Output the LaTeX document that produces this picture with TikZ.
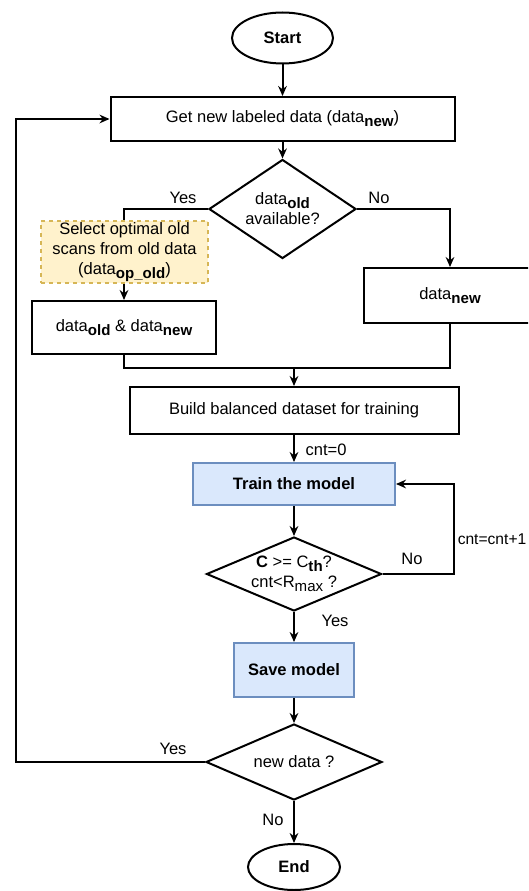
\documentclass[tikz,border=0pt]{standalone}
\usepackage{fontspec}
\setmainfont{Liberation Sans}
\usetikzlibrary{arrows.meta, shapes.geometric}
\definecolor{BoxBlue}{HTML}{DAE8FC}
\definecolor{EdgeBlue}{HTML}{6C8EBF}
\definecolor{NoteYellow}{HTML}{FFF2CC}
\definecolor{EdgeYellow}{HTML}{D6B656}
\newcommand{\dsub}[1]{\raisebox{-0.45ex}{\fontsize{11.3}{13}\selectfont #1}}

\begin{document}
\begin{tikzpicture}[x=0.75pt, y=-0.75pt, font=\fontsize{12.4}{15}\selectfont, bx/.style={draw, line width=1.5pt, align=center, inner sep=0pt}, trm/.style={bx, ellipse, font=\fontsize{12.4}{15}\selectfont\bfseries}, dec/.style={bx, diamond}, blu/.style={bx, draw=EdgeBlue, fill=BoxBlue, font=\fontsize{12.4}{15}\selectfont\bfseries}, note/.style={draw=EdgeYellow, fill=NoteYellow, dashed, line width=1.5pt, align=center, inner sep=0pt}, ln/.style={line width=1.5pt}, ar/.style={ln, -{Stealth[length=7.5pt, width=6.5pt]}}, lbl/.style={inner sep=0pt}]
\clip (0,0) rectangle (528,891);
\node[trm, minimum width=75.75pt, minimum height=38.25pt] (start) at (282.5,38) {Start};
\node[bx, minimum width=258pt, minimum height=33pt] (getnew) at (282.5,119) {Get new labeled data (data\dsub{\bfseries new})};
\node[dec, aspect=1.5, minimum width=110.25pt, minimum height=74.25pt] (dia1) at (282.5,209) {data\dsub{\bfseries old}\\available?};
\node[bx, minimum width=138.4pt, minimum height=39.75pt] (oldnew) at (124,327.5) {data\dsub{\bfseries old} \& data\dsub{\bfseries new}};
\node[bx, minimum width=129pt, minimum height=41.25pt] (newbox) at (450,295.5) {data\dsub{\bfseries new}};
\coordinate (mrg) at (294,368);
\node[bx, minimum width=246.75pt, minimum height=35.25pt] (build) at (294,410.5) {Build balanced dataset for training};
\node[blu, minimum width=151.5pt, minimum height=31.5pt] (train) at (294,484) {Train the model};
\node[dec, aspect=2.36, minimum width=131.25pt, minimum height=55.5pt] (dia2) at (294,574) {\textbf{C} >= C\dsub{\bfseries th}?\\cnt<R\dsub{max} ?};
\coordinate (loop) at (454,572);
\node[blu, minimum width=90pt, minimum height=40.5pt] (save) at (294,670) {Save model};
\node[dec, aspect=2.3, minimum width=132pt, minimum height=57pt] (dia3) at (294,762) {new data ?};
\coordinate (back) at (16,762);
\node[trm, minimum width=69pt, minimum height=34.5pt] (stop) at (294,867) {End};
\draw[ar] (start) -- (getnew);
\draw[ar] (getnew) -- (dia1);
\draw[ar] (dia1.west) -| (oldnew.north);
\draw[ar] (dia1.east) -| (newbox.north);
\draw[ln] (oldnew.south) |- (mrg) -| (newbox.south);
\draw[ar] (mrg) -- (build);
\draw[ar] (build) -- (train);
\draw[ar] (train) -- (dia2);
\draw[ar] (dia2.east) -- (dia2.east -| loop) |- (train.east);
\draw[ar] (dia2) -- (save);
\draw[ar] (save) -- (dia3);
\draw[ar] (dia3.west) -- (back) |- (getnew.west);
\draw[ar] (dia3) -- (stop);
\node[note, minimum width=125.25pt, minimum height=46.5pt] (sel) at (124.5,252) {Select optimal old\\scans from old data\\(data\dsub{\bfseries op\_old})};
\node[lbl] (yes1) at (183,198) {Yes};
\node[lbl] (no1) at (379,198) {No};
\node[lbl] (cnt0) at (326,450) {cnt=0};
\node[lbl] (no2) at (412,559) {No};
\node[lbl, anchor=west, font=\fontsize{11.7}{14}\selectfont] (cntinc) at (457.5,539) {cnt=cnt+1};
\node[lbl] (yes2) at (335,621) {Yes};
\node[lbl] (yes3) at (173,749) {Yes};
\node[lbl] (no3) at (273,820) {No};
\end{tikzpicture}
\end{document}
